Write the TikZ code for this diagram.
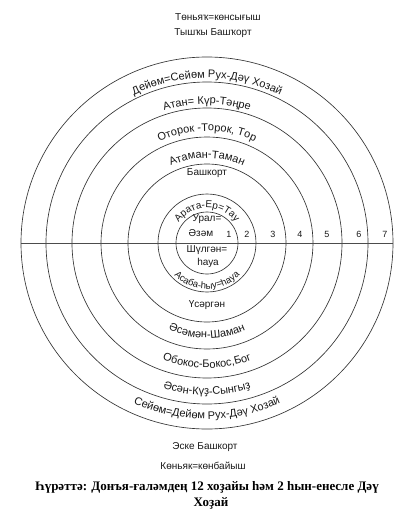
\documentclass[tikz,border=0pt]{standalone}
\usepackage{fontspec}
\setmainfont{Liberation Serif}
\setsansfont{Liberation Sans}
\usetikzlibrary{decorations.text}
\newcommand\myTopArc[3]{\path[decorate,decoration={text along path,text align=center,text={|\sffamily\fontsize{#2}{#2}\selectfont\color{black!90}|#3}}] (180:#1pt) arc[start angle=180,end angle=0,radius=#1pt];}
\newcommand\myBotArc[3]{\path[decorate,decoration={text along path,text align=center,text={|\sffamily\fontsize{#2}{#2}\selectfont\color{black!90}|#3}}] (180:#1pt) arc[start angle=180,end angle=360,radius=#1pt];}
\begin{document}
\begin{tikzpicture}[x=1pt,y=1pt]
\tikzset{
  ring/.style={draw=black!80,line width=0.65pt},
  axisline/.style={draw=black!70,line width=0.6pt},
  lbl/.style={font=\sffamily\fontsize{10}{12}\selectfont,text=black!90,inner sep=0pt},
  num/.style={font=\sffamily\fontsize{9}{11}\selectfont,text=black!90,inner sep=0pt},
  capt/.style={font=\bfseries\fontsize{13}{15}\selectfont,text=black,inner sep=0pt}
}
\fill[white] (-207,-277) rectangle (212,243);
\useasboundingbox (-207,-277) rectangle (212,243);
\coordinate (c) at (0,0);
\coordinate (L) at (-186,0);
\coordinate (R) at (186,0);
% circles
\foreach \r in {31,49,79,106,135,161,186}{
  \draw[ring] (c) circle[radius=\r pt];
}
\draw[axisline] (L) -- (R);
% numbers
\node[num] (n1) at (22,9) {1};
\node[num] (n2) at (40,9) {2};
\node[num] (n3) at (66,9) {3};
\node[num] (n4) at (93,9) {4};
\node[num] (n5) at (120,9) {5};
\node[num] (n6) at (152,9) {6};
\node[num] (n7) at (178,9) {7};
% outside texts
\node[lbl] (north1) at (11,226) {Төньяҡ=көнсығыш};
\node[lbl] (north2) at (6,210) {Тышҡы Башҡорт};
\node[lbl] (south1) at (-2,-204) {Эске Башкорт};
\node[lbl] (south2) at (-4,-223) {Көньяк=көнбайыш};
\node[capt] (cap1) at (0,-244) {Һүрәттә: Донъя-ғаләмдең 12 хоҙайы һәм 2 һын-енесле Дәү};
\node[capt] (cap2) at (4,-260) {Хоҙай};
% inner texts
\node[lbl] (ural) at (0,24) {Урал=};
\node[lbl] (azam) at (-6,10) {Әзәм};
\node[lbl] (shulgan) at (0,-7) {Шүлгән=};
\node[lbl] (haua) at (1,-20) {һауа};
\node[lbl] (bash) at (0,70) {Башкорт};
\node[lbl] (usar) at (0,-62) {Үсәргән};
% top arcs
\myTopArc{165}{11}{Дейөм=Сейөм Рух-Дәү Хозай}
\myTopArc{139}{11}{Атан= Күр-Тәңре}
\myTopArc{112}{11}{Оторок -Торок, Тор}
\myTopArc{85}{11}{Атаман-Таман}
\myTopArc{35}{10}{Арата-Ер=Тау}
% bottom arcs
\myBotArc{46}{9.5}{Асаба-һыу=һауа}
\myBotArc{95}{11}{Әсәмән-Шаман}
\myBotArc{125}{11}{Обокос-Бокос,Бог}
\myBotArc{152}{11}{Әсән-Күҙ-Сынгыҙ}
\myBotArc{176}{11}{Сейөм=Дейөм Рух-Дәү Хозай}
\end{tikzpicture}
\end{document}
